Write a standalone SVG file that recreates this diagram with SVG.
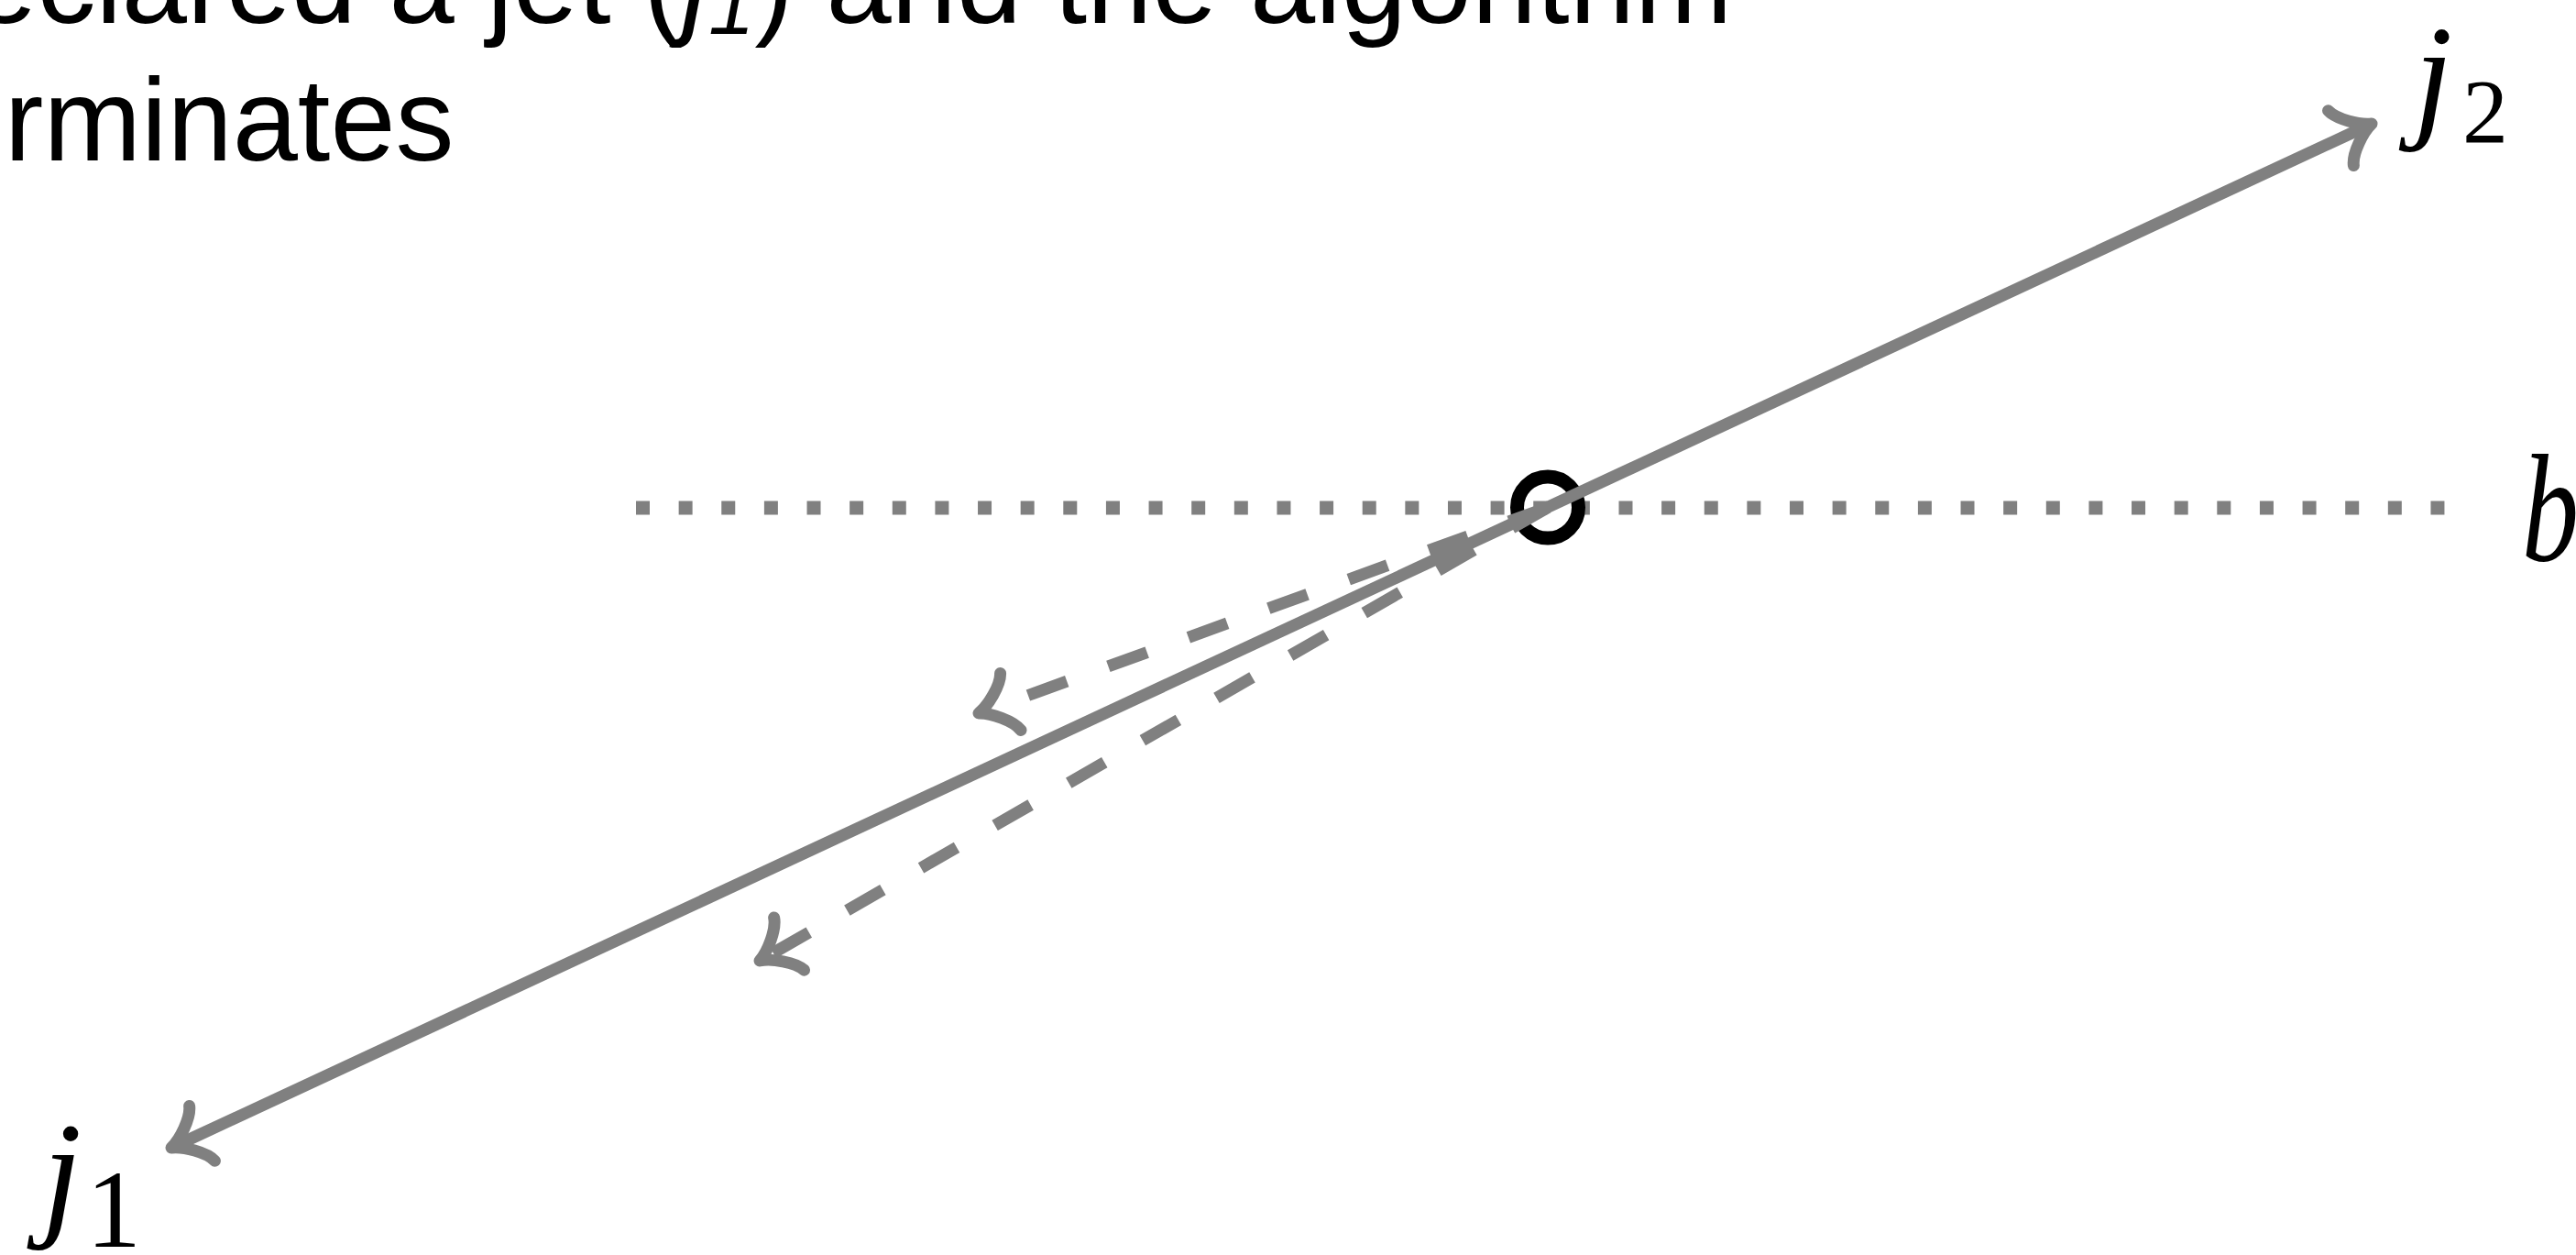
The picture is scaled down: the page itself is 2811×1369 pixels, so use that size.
<svg xmlns="http://www.w3.org/2000/svg" width="2811" height="1369" viewBox="0 0 2811 1369">
  <style>
    .cap { font-family: "Liberation Sans", Arial, Helvetica, sans-serif; font-size: 128px; fill: #000; }
    .math { font-family: "Liberation Serif", "Times New Roman", serif; font-style: italic; fill: #000; }
    .sub { font-family: "Liberation Serif", "Times New Roman", serif; font-style: normal; fill: #000; }
    .gray { fill: none; stroke: #808080; stroke-width: 13; }
    .dashed { stroke-dasharray: 45 48; stroke-linecap: butt; }
    .dotted { fill: none; stroke: #808080; stroke-width: 15; stroke-dasharray: 15 31.63; }
  </style>
  <defs>
    <marker id="ah" markerUnits="userSpaceOnUse" orient="auto-start-reverse" refX="0" refY="0" markerWidth="100" markerHeight="100" viewBox="-50 -50 100 100" overflow="visible">
      <path d="M-37 33 C-33 20.6 -12.4 4.1 0 0 C-12.4 -4.1 -33 -20.6 -37 -33" fill="none" stroke="#808080" stroke-width="13" stroke-linecap="round" stroke-linejoin="round" stroke-dasharray="none"/>
    </marker>
  </defs>

  <g id="caption">
    <text class="cap" x="-102" y="25">declared a jet (<tspan font-style="italic">j</tspan><tspan font-style="italic" font-size="90" dy="12">1</tspan><tspan dy="-12">) and the algorithm</tspan></text>
    <text class="cap" x="-102" y="175">terminates</text>
  </g>

  <g id="node-b-line">
    <path class="dotted" d="M694 554 H2668"/>
  </g>

  <g id="node-center">
    <circle cx="1689" cy="553.5" r="33.5" fill="none" stroke="#000" stroke-width="15"/>
  </g>

  <g id="connectors">
    <path class="gray" d="M187 1252 L2588 135" marker-start="url(#ah)" marker-end="url(#ah)"/>
    <path class="gray dashed" d="M1689 553.5 L1068 778" marker-end="url(#ah)"/>
    <path class="gray dashed" d="M1689 553.5 L829 1048" marker-end="url(#ah)"/>
  </g>

  <g id="label-j1">
    <text class="math" x="46" y="1331" font-size="155">j</text>
    <text class="sub" x="94" y="1360" font-size="120">1</text>
  </g>
  <g id="label-j2">
    <text class="math" x="2634" y="133" font-size="152">j</text>
    <text class="sub" x="2687" y="155" font-size="100">2</text>
  </g>
  <g id="label-b">
    <text class="math" x="2752" y="611" font-size="168" textLength="62" lengthAdjust="spacingAndGlyphs">b</text>
  </g>
</svg>
